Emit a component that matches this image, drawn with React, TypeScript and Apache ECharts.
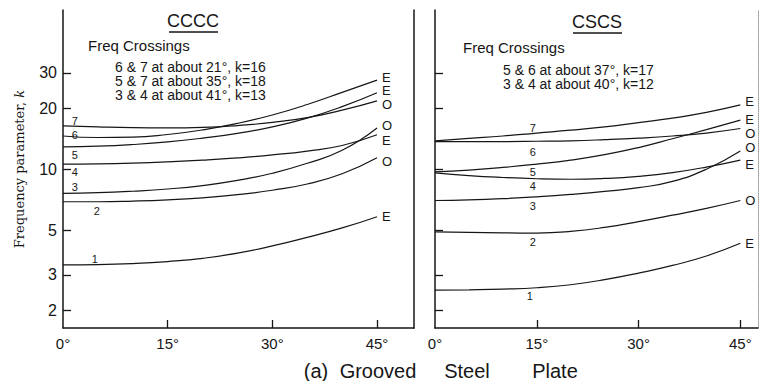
import React, { useEffect, useRef } from 'react';
import * as echarts from 'echarts';

// skew angle in degrees
const angles = [0, 5, 10, 15, 20, 25, 30, 35, 40, 45];
const kTicks = [2, 3, 5, 10, 20, 30];
const angleTicks = [0, 15, 30, 45];

// CCCC panel, frequency parameter k per mode
const cccc1 = [3.36, 3.37, 3.41, 3.49, 3.62, 3.84, 4.17, 4.6, 5.12, 5.82];
const cccc2 = [6.9, 6.9, 6.95, 7.05, 7.22, 7.48, 7.87, 8.45, 9.5, 11.4];
const cccc3 = [7.6, 7.65, 7.78, 7.98, 8.3, 8.8, 9.55, 10.7, 12.4, 16.0];
const cccc4 = [10.6, 10.63, 10.72, 10.87, 11.08, 11.37, 11.77, 12.3, 13.1, 14.8];
const cccc5 = [12.9, 13.0, 13.25, 13.65, 14.25, 15.05, 16.2, 17.9, 20.4, 23.9];
const cccc6 = [14.6, 14.35, 14.4, 14.85, 15.65, 16.85, 18.55, 20.9, 24.0, 27.6];
const cccc7 = [16.4, 16.2, 16.05, 16.0, 16.1, 16.45, 17.05, 18.0, 19.6, 21.8];
const ccccEnds = ['E', 'O', 'O', 'E', 'E', 'E', 'O'];

// CSCS panel
const cscs1 = [2.52, 2.53, 2.55, 2.59, 2.68, 2.84, 3.06, 3.34, 3.72, 4.3];
const cscs2 = [4.9, 4.87, 4.84, 4.83, 4.92, 5.15, 5.5, 5.92, 6.4, 7.0];
const cscs3 = [7.0, 7.05, 7.15, 7.3, 7.5, 7.76, 8.1, 8.7, 10.0, 12.3];
const cscs4 = [9.6, 9.3, 9.1, 8.97, 8.92, 9.0, 9.22, 9.62, 10.25, 11.1];
const cscs5 = [9.7, 9.9, 10.2, 10.6, 11.1, 11.8, 12.8, 14.15, 15.7, 17.5];
const cscs6 = [13.7, 13.7, 13.7, 13.75, 13.82, 14.0, 14.25, 14.6, 15.1, 15.9];
const cscs7 = [13.8, 14.2, 14.6, 15.1, 15.6, 16.2, 17.0, 17.9, 19.1, 20.8];
const cscsEnds = ['E', 'O', 'O', 'E', 'E', 'O', 'E'];

const modeNames = ['1', '2', '3', '4', '5', '6', '7'];

const ccccNotes = ['6 & 7 at about 21°, k=16', '5 & 7 at about 35°, k=18', '3 & 4 at about 41°, k=13'];
const cscsNotes = ['5 & 6 at about 37°, k=17', '3 & 4 at about 40°, k=12'];

const SANS = '"Liberation Sans", Arial, sans-serif';
const INK = '#161616';

// label offsets (from the point, label placed above it)
const ccccLabelOffsets = [[-3, 0], [-1, 15], [-23, 0], [-23, 14], [-23, 14], [-23, 3], [-23, 0]];
const cscsLabelOffsets = [[-7, 14], [-4, 14], [-4, 15], [-4, 13], [-4, 13], [-4, 16], [-4, 0]];
const ccccEndOffsets = [[0, 0], [0, 4], [0, -2], [0, 6], [0, -2], [0, -3], [0, 4]];
const cscsEndOffsets = [[0, 0], [0, 0], [0, -4], [0, 4], [0, -1], [0, 5], [0, -3]];

function mkSeries(vals: number[], panel: number, mode: number, end: string, labelIdx: number, off: number[], endOff: number[]) {
  return {
    type: 'line',
    xAxisIndex: panel,
    yAxisIndex: panel === 0 ? 0 : 2,
    smooth: 0.5,
    symbol: 'circle',
    symbolSize: 0,
    showSymbol: true,
    silent: true,
    color: INK,
    lineStyle: { color: INK, width: 1.2 },
    itemStyle: { color: INK },
    label: { show: false, color: INK, textBorderWidth: 0 },
    data: angles.map((a, i) =>
      i === labelIdx
        ? {
            value: [a, Math.log10(vals[i])],
            label: {
              show: true,
              formatter: modeNames[mode],
              position: 'top',
              distance: 0,
              offset: off,
              fontSize: 11,
              fontFamily: SANS,
              color: INK,
              textBorderWidth: 0,
              textBorderColor: 'transparent',
            },
          }
        : [a, Math.log10(vals[i])]
    ),
    endLabel: {
      show: true,
      formatter: end,
      distance: 5,
      offset: endOff,
      fontSize: 13,
      fontFamily: SANS,
      color: INK,
    },
    emphasis: { disabled: true },
  };
}

const logMin = 0.214;
const logMax = 1.788;
const logTicks = kTicks.map((v) => Math.log10(v));

function xAxisFor(grid: number, max: number) {
  return {
    type: 'value',
    gridIndex: grid,
    min: 0,
    max,
    axisLine: { show: true, onZero: false, lineStyle: { color: INK, width: 1.5 } },
    axisTick: { show: true, inside: true, length: 8, customValues: [15, 30, 45], lineStyle: { color: INK, width: 1.3 } },
    axisLabel: {
      customValues: angleTicks,
      formatter: (v: number) => Math.round(v) + '°',
      fontSize: 15,
      fontFamily: SANS,
      color: INK,
      margin: 8,
    },
    splitLine: { show: false },
  };
}

export default function App() {
  const ref = useRef<HTMLDivElement>(null);
  useEffect(() => {
    if (!ref.current) return;
    const chart = echarts.init(ref.current, undefined, { renderer: 'svg' });
    const ccccSets = [cccc1, cccc2, cccc3, cccc4, cccc5, cccc6, cccc7];
    const cscsSets = [cscs1, cscs2, cscs3, cscs4, cscs5, cscs6, cscs7];
    const series: any[] = [];
    ccccSets.forEach((vals, m) => series.push(mkSeries(vals, 0, m, ccccEnds[m], 1, ccccLabelOffsets[m], ccccEndOffsets[m])));
    cscsSets.forEach((vals, m) => series.push(mkSeries(vals, 1, m, cscsEnds[m], 3, cscsLabelOffsets[m], cscsEndOffsets[m])));

    const txt = (text: string, x: number, y: number, size: number, align = 'left', vAlign = 'middle', lineHeight?: number) => ({
      type: 'text',
      x,
      y,
      silent: true,
      style: { text, fontSize: size, fontFamily: SANS, fill: INK, align, verticalAlign: vAlign, lineHeight },
    });

    const graphics: any[] = [
      txt('CCCC', 193, 21, 18, 'center'),
      { type: 'line', silent: true, shape: { x1: 169, y1: 32, x2: 218, y2: 32 }, style: { stroke: INK, lineWidth: 1.5 } },
      txt('CSCS', 597, 22, 18, 'center'),
      { type: 'line', silent: true, shape: { x1: 573, y1: 33, x2: 622, y2: 33 }, style: { stroke: INK, lineWidth: 1.5 } },
      txt('Freq Crossings', 88, 45, 15),
      txt('Freq Crossings', 463, 47, 15),
      txt(ccccNotes.join('\n'), 115, 60, 14, 'left', 'top', 14),
      txt(cscsNotes.join('\n'), 503, 62.5, 14, 'left', 'top', 14),
      txt('(a)', 316, 371, 20, 'center'),
      txt('Grooved', 378, 371, 20, 'center'),
      txt('Steel', 467, 371, 20, 'center'),
      txt('Plate', 555, 371, 20, 'center'),
    ];

    chart.setOption({
      animation: false,
      backgroundColor: '#ffffff',
      grid: [
        { left: 63, top: 10, width: 351, height: 318 },
        { left: 435, top: 10, width: 323, height: 318 },
      ],
      xAxis: [xAxisFor(0, 50.3), xAxisFor(1, 47.6)],
      yAxis: [
        {
          type: 'value',
          gridIndex: 0,
          min: logMin,
          max: logMax,
          axisLine: { show: true, onZero: false, lineStyle: { color: INK, width: 1.5 } },
          axisTick: { show: true, inside: true, length: 8, customValues: logTicks, lineStyle: { color: INK, width: 1.3 } },
          axisLabel: {
            customValues: logTicks,
            formatter: (v: number) => String(Math.round(Math.pow(10, v))),
            fontSize: 16,
            fontFamily: SANS,
            color: INK,
            margin: 6,
          },
          splitLine: { show: false },
          name: 'Frequency parameter, {k|k}',
          nameLocation: 'middle',
          nameRotate: 90,
          nameGap: 37,
          nameTextStyle: {
            fontFamily: '"DejaVu Serif", serif',
            fontSize: 13,
            color: INK,
            rich: { k: { fontFamily: '"DejaVu Serif", serif', fontStyle: 'italic', fontSize: 13, color: INK } },
          },
        },
        {
          type: 'value',
          gridIndex: 0,
          position: 'right',
          min: logMin,
          max: logMax,
          axisLine: { show: true, onZero: false, lineStyle: { color: INK, width: 1.5 } },
          axisTick: { show: false },
          axisLabel: { show: false },
          splitLine: { show: false },
        },
        {
          type: 'value',
          gridIndex: 1,
          min: logMin,
          max: logMax,
          axisLine: { show: true, onZero: false, lineStyle: { color: INK, width: 1.5 } },
          axisTick: { show: true, inside: true, length: 8, customValues: logTicks, lineStyle: { color: INK, width: 1.3 } },
          axisLabel: { show: false },
          splitLine: { show: false },
        },
        {
          type: 'value',
          gridIndex: 1,
          position: 'right',
          min: logMin,
          max: logMax,
          axisLine: { show: true, onZero: false, lineStyle: { color: '#9a9a9a', width: 1, type: 'dotted' } },
          axisTick: { show: false },
          axisLabel: { show: false },
          splitLine: { show: false },
        },
      ],
      series,
      graphic: graphics,
    });
    return () => chart.dispose();
  }, []);
  return <div ref={ref} style={{ width: 762, height: 381, position: 'absolute', left: 0, top: 0 }} />;
}
